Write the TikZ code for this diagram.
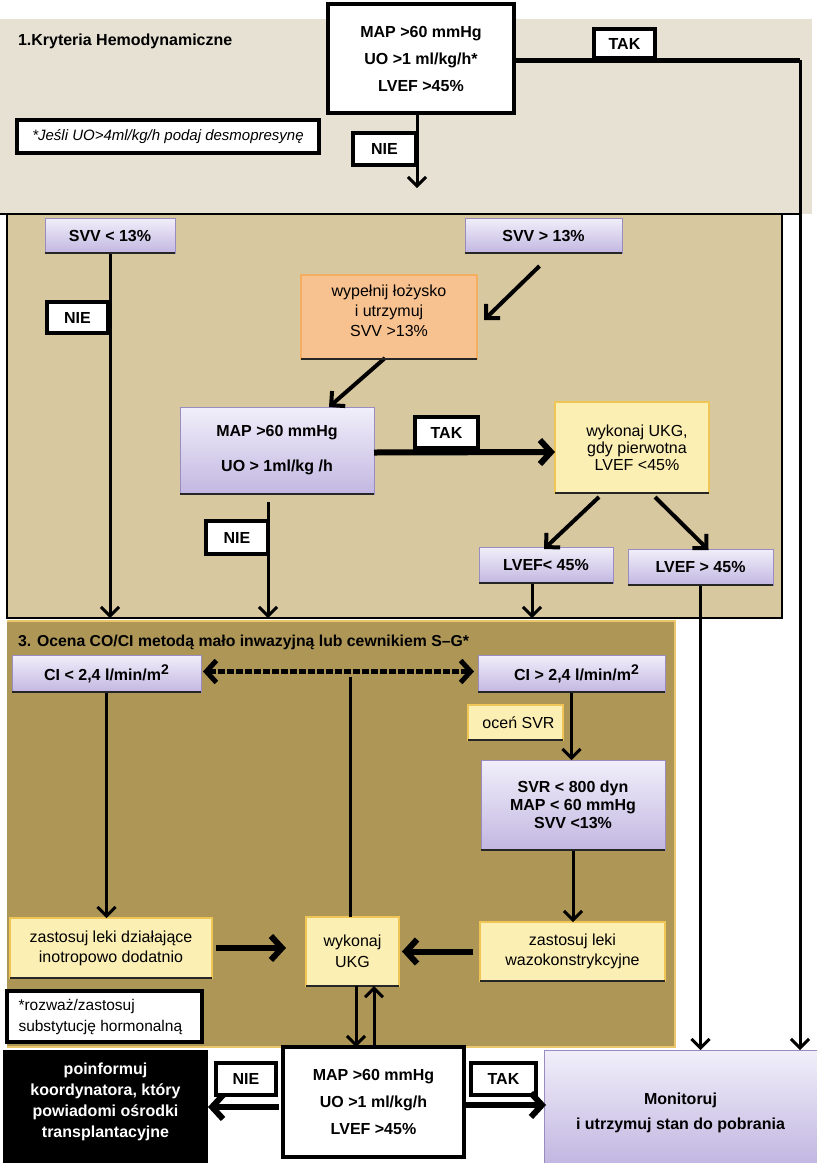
\documentclass[tikz,border=0pt]{standalone}
\usepackage{fontspec}
\setmainfont{Liberation Sans}
\usetikzlibrary{arrows.meta,calc}
\definecolor{bandA}{HTML}{E6E1D3}
\definecolor{bandB}{HTML}{D8C8A0}
\definecolor{bandC}{HTML}{AE9657}
\definecolor{lavT}{HTML}{F1EFFA}
\definecolor{lavB}{HTML}{C2B7E1}
\definecolor{lavD}{HTML}{9A8CC0}
\definecolor{yelF}{HTML}{FCEFB4}
\definecolor{yelD}{HTML}{EFC555}
\definecolor{orF}{HTML}{F8C290}
\definecolor{orD}{HTML}{F3AE62}
\definecolor{goldD}{HTML}{E9C76A}
\newcommand\rbox[7]{\node[#6,minimum width={(#4)-(#2)},minimum height={(#5)-(#3)}] (#1) at ({((#2)+(#4))/2},{((#3)+(#5))/2}) {#7};}
\newcommand\sqr{\raisebox{6pt}{\fontsize{14}{14}\selectfont 2}}
\begin{document}
\begin{tikzpicture}[x=1pt,y=-1pt,
  every node/.style={inner sep=0pt,outer sep=0pt,align=center,font=\fontsize{16}{18}\selectfont},
  lav/.style={top color=lavT,bottom color=lavB,draw=lavD,line width=1pt,font=\bfseries\fontsize{16}{18}\selectfont},
  ybox/.style={fill=yelF,draw=yelD,line width=1.5pt},
  obox/.style={fill=orF,draw=orD,line width=1.5pt,font=\fontsize{16}{20}\selectfont},
  wbox/.style={fill=white,draw=black,line width=4pt,font=\bfseries\fontsize{16}{27}\selectfont},
  nbox/.style={fill=white,draw=black,line width=3.5pt},
  lbl/.style={fill=white,draw=black,line width=3.5pt,font=\bfseries\fontsize{16}{18}\selectfont},
  edgeline/.style={black!85,line width=2.5pt},
  conn/.style={line width=3pt,-{Straight Barb[length=9pt,width=18pt]}},
  diag/.style={line width=4pt,-{Straight Barb[length=10pt,width=20pt]}},
  fat/.style={line width=6pt,-{Straight Barb[length=11pt,width=24pt]}},
  lnk/.style={line width=3pt}]
\useasboundingbox (0,0) rectangle (817,1163);
\fill[white] (0,0) rectangle (817,1163);
% section backgrounds
\fill[bandA] (0,19) rectangle (812,214);
\fill[bandB] (7,214) rectangle (782,618);
\draw[line width=2.5pt] (0,214) -- (800,214);
\draw[line width=2.5pt] (7,214) -- (7,618) -- (782,618) -- (782,214);
\fill[bandC] (7,621) rectangle (675,1048);
\draw[goldD,line width=1.5pt] (7,621) -- (675,621) -- (675,1048);
\draw[goldD,line width=2pt] (7,1047) -- (675,1047);
% section 1
\rbox{top}{328}{4}{514}{113}{wbox}{MAP >60 mmHg\\UO >1 ml/kg/h*\\LVEF >45\%}
\node[anchor=base west,font=\bfseries\fontsize{16}{18}\selectfont] (h1) at (18,45) {1.Kryteria Hemodynamiczne};
\rbox{tak1}{594}{29}{655}{58}{lbl}{TAK}
\rbox{note1}{17}{120}{319}{153}{nbox}{\itshape\fontsize{15}{17}\selectfont *Jeśli UO>4ml/kg/h podaj desmopresynę}
\rbox{nie1}{353}{133}{416}{165}{lbl}{NIE}
\rbox{mon}{544}{1050}{817}{1163}{lav,font=\bfseries\fontsize{16}{25}\selectfont}{\\Monitoruj\\i utrzymuj stan do pobrania}
\coordinate (tc) at (800,60);
\draw[line width=5pt] (top.east |- tc) -- (tc);
\draw[conn] (tc) -- (tc |- mon.north);
\coordinate (n1) at (417,113);
\draw[conn] (n1) -- ++(0,75);
% section 2
\rbox{svvL}{45}{218}{175}{253}{lav}{SVV < 13\%}
\rbox{svvR}{465}{218}{622}{253}{lav}{SVV > 13\%}
\rbox{nie2}{47}{302}{108}{333}{lbl}{NIE}
\draw[conn] (svvL.south) -- ++(0,365);
\rbox{orange}{301}{275}{477}{359}{obox}{wypełnij łożysko\\i utrzymuj\\ SVV >13\%\\[-8pt]}
\draw[diag] ($(svvR.south)+(-4,13)$) -- ($(orange.east)+(7,3)$);
\rbox{map}{180}{407}{374}{494}{lav}{MAP >60 mmHg\\[17pt]UO > 1ml/kg /h}
\draw[diag] ($(orange.south)+(-4,-1)$) -- ($(map.north)+(52,0)$);
\rbox{ukg1}{555}{402}{709}{493}{ybox,font=\fontsize{16}{17}\selectfont}{\hspace*{10pt}wykonaj UKG,\\\hspace*{10pt}gdy pierwotna\\\hspace*{10pt}LVEF <45\%}
\rbox{tak2}{415}{417}{478}{448}{lbl}{TAK}
\draw[fat] ($(map.east)+(0,2)$) -- ($(ukg1.west)+(0,4.5)$);
\rbox{nie3}{206}{521}{268}{554}{lbl}{NIE}
\draw[conn] ($(map.south)+(-9,8)$) -- ++(0,116);
\rbox{lvL}{479}{547}{613}{583}{lav}{LVEF< 45\%}
\rbox{lvR}{628}{549}{773}{585}{lav}{LVEF > 45\%}
\draw[diag] ($(ukg1.south)+(-33,4)$) -- ($(lvL.north)+(-2,2)$);
\draw[diag] ($(ukg1.south)+(23,4)$) -- ($(lvR.north)+(8,1)$);
\draw[conn] ($(lvL.south)+(-14,0)$) -- ++(0,35);
\draw[conn] (lvR.south) -- (lvR.south |- mon.north);
% section 3
\node[anchor=base west,font=\bfseries\fontsize{15.8}{18}\selectfont] (h3) at (18,646) {3. Ocena CO/CI metodą mało inwazyjną lub cewnikiem S–G*};
\rbox{ciL}{12}{655}{201}{692}{lav}{CI < 2,4 l/min/m\sqr}
\rbox{ciR}{478}{655}{665}{692}{lav}{\hspace*{10pt}CI > 2,4 l/min/m\sqr}
\rbox{ukgC}{306}{917}{399}{986}{ybox,font=\fontsize{16}{21}\selectfont}{wykonaj\\UKG}
\draw[line width=5pt,dash pattern=on 7pt off 2pt,{Straight Barb[length=10pt,width=22pt]}-{Straight Barb[length=10pt,width=22pt]},shorten <=2pt,shorten >=4pt] ($(ciL.east)+(0,-2)$) -- ($(ciR.west)+(0,-2)$);
\draw[lnk] ($(ukgC.north)+(-2,0)$) -- ++(0,-240);
\rbox{svrq}{468}{705}{563}{740}{ybox}{\hspace*{6pt}oceń SVR}
\rbox{svr}{481}{760}{665}{850}{lav}{SVR < 800 dyn\\MAP < 60 mmHg\\SVV <13\%}
\draw[conn] (ciR.south) -- (ciR.south |- svr.north);
\rbox{zwaz}{480}{922}{665}{981}{ybox,font=\fontsize{16}{20}\selectfont}{zastosuj leki\\wazokonstrykcyjne}
\draw[conn] (svr.south) -- (svr.south |- zwaz.north);
\rbox{zino}{10}{918}{212}{978}{ybox,font=\fontsize{16}{20}\selectfont}{zastosuj leki działające\\inotropowo dodatnio}
\draw[conn] (ciL.south) -- (ciL.south |- zino.north);
\draw[fat] ($(zino.east)+(4,0)$) -- ($(zino.east -| ukgC.west)+(-20,0)$);
\draw[fat] ($(zwaz.west)+(-7,0)$) -- ($(zwaz.west -| ukgC.east)+(3,0)$);
\rbox{note3}{7}{991}{202}{1042}{nbox}{\begin{minipage}{172pt}\fontsize{15.5}{21}\selectfont *rozważ/zastosuj\\substytucję hormonalną\end{minipage}}
% dark bottom edges of the coloured boxes
\foreach \n in {svvL,svvR,orange,map,ukg1,lvL,lvR,ciL,ciR,svrq,svr,ukgC,zwaz,zino}
  \draw[edgeline] (\n.south west) -- (\n.south east);
% bottom
\rbox{blk}{3}{1050}{208}{1163}{fill=black,text=white,font=\bfseries\fontsize{16}{21}\selectfont}{poinformuj\\koordynatora, który\\powiadomi ośrodki\\transplantacyjne\\[-8pt]}
\rbox{wb}{283}{1047}{464}{1157}{wbox}{MAP >60 mmHg\\UO >1 ml/kg/h\\LVEF >45\%}
\rbox{nie4}{216}{1063}{276}{1095}{lbl}{NIE}
\rbox{tak4}{471}{1063}{536}{1095}{lbl}{TAK}
\draw[fat] ($(wb.west)+(-4,5)$) -- ($(wb.west -| blk.east)+(0,5)$);
\draw[fat] ($(wb.east)+(2,3)$) -- ($(wb.east -| mon.west)+(2,3)$);
\coordinate (u1) at ($(ukgC.south)+(3.5,0)$);
\coordinate (u2) at ($(ukgC.south)+(21.5,0)$);
\draw[conn] (u1) -- (u1 |- wb.north);
\draw[conn] (u2 |- wb.north) -- (u2);
\end{tikzpicture}
\end{document}
